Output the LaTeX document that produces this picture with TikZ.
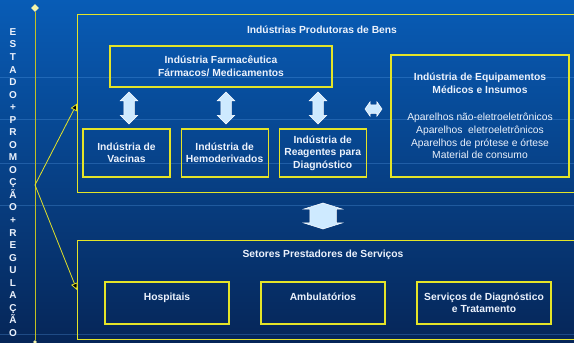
\documentclass[tikz,border=0pt]{standalone}
\usepackage{fontspec}
\setmainfont{Liberation Sans}
\usetikzlibrary{shapes.geometric,shapes.arrows,arrows.meta,positioning}

\definecolor{bgtop}{RGB}{8,92,182}
\definecolor{bgbottom}{RGB}{6,38,88}
\definecolor{boxline}{RGB}{228,228,40}
\definecolor{txt}{RGB}{236,242,252}
\definecolor{arrowfill}{RGB}{206,234,255}
\definecolor{gridline}{RGB}{90,160,235}

\begin{document}
\begin{tikzpicture}[
    x=1pt, y=-1pt,
    box/.style={rectangle, draw=boxline, line width=1.1pt, text=txt, align=center, inner sep=0pt,
        font=\fontsize{10.3}{12.5}\selectfont\bfseries},
    smallbox/.style={box, minimum width=87, minimum height=48},
    servbox/.style={box, minimum width=124, minimum height=42},
    title/.style={text=txt, font=\fontsize{10.3}{12.5}\selectfont\bfseries},
    dblarrow/.style={double arrow, draw=white, fill=arrowfill, line width=0.5pt,
        double arrow head indent=0pt, shape border rotate=90},
    link/.style={draw=boxline, line width=0.8pt, -{Triangle[length=7pt,width=7pt,fill=black]}},
    marker/.style={diamond, fill=boxline!40!white, inner sep=0pt}
]

% Background
\useasboundingbox (0,0) rectangle (574,343);
\shade[top color=bgtop, bottom color=bgbottom] (0,0) rectangle (574,343);
\foreach \gy in {77,119,163,205,334}
    \draw[gridline, opacity=0.3, line width=0.6pt] (0,\gy) -- (574,\gy);

% Left axis
\node[marker, minimum size=8] (topmark) at (35,8) {};
\node[marker, minimum size=4] (botmark) at (35,342) {};
\draw[boxline!85!black, line width=0.9pt] (topmark) -- (botmark);
\node[text=txt, align=center, inner sep=0pt, font=\fontsize{10}{12.54}\selectfont\bfseries] (estado) at (13,182.5)
    {E\\S\\T\\A\\D\\O\\+\\P\\R\\O\\M\\O\\Ç\\Ã\\O\\+\\R\\E\\G\\U\\L\\A\\Ç\\Ã\\O};
\coordinate (hub) at (35,185);

% Industries
\node[box, minimum width=499, minimum height=178, anchor=north west] (bens) at (77,14) {};
\node[title] (bensTitle) at (322,29.5) {Indústrias Produtoras de Bens};
\node[box, minimum width=222, minimum height=41] (farma) at (221,66.5) {Indústria Farmacêutica\\Fármacos/ Medicamentos};
\node[smallbox] (vacinas) at (126.5,153) {Indústria de\\Vacinas};
\node[smallbox, right=10pt of vacinas] (hemo) {Indústria de\\Hemoderivados};
\node[smallbox, right=10pt of hemo] (reagentes) {Indústria de\\Reagentes para\\Diagnóstico};
\node[box, minimum width=178, minimum height=122, font=\fontsize{10.3}{12.9}\selectfont] (equip) at (480,116)
    {\textbf{Indústria de Equipamentos}\\\textbf{Médicos e Insumos}\\[14pt]
     Aparelhos não-eletroeletrônicos\\Aparelhos\ \ eletroeletrônicos\\Aparelhos de prótese e órtese\\Material de consumo};

% Block arrows
\node[dblarrow, inner sep=5pt, minimum height=32, double arrow head extend=3.5] (arrVac) at (129,108) {};
\node[dblarrow, inner sep=5pt, minimum height=32, double arrow head extend=3.5] (arrHemo) at (226,108) {};
\node[dblarrow, inner sep=5pt, minimum height=32, double arrow head extend=3.5] (arrReag) at (318,108) {};
\node[dblarrow, shape border rotate=0, inner sep=4pt, minimum height=17, double arrow head extend=3,
    double arrow tip angle=110] (arrEquip) at (373.5,109) {};
\node[dblarrow, inner xsep=13pt, inner ysep=0pt, minimum height=26, double arrow head extend=6,
    double arrow tip angle=145] (arrSetores) at (323,216) {};

% Services
\node[box, minimum width=499, minimum height=99, anchor=north west] (servicos) at (77,240) {};
\node[title] (servTitle) at (323,255) {Setores Prestadores de Serviços};
\node[servbox] (hospitais) at (167,303) {Hospitais\\~};
\node[servbox] (ambulatorios) at (323,303) {Ambulatórios\\~};
\node[servbox, minimum width=134] (diagnostico) at (484,303) {Serviços de Diagnóstico\\e Tratamento};

% Links
\draw[link] (hub) -- (bens.west);
\draw[link] (hub) -- (servicos.west);

\end{tikzpicture}
\end{document}
